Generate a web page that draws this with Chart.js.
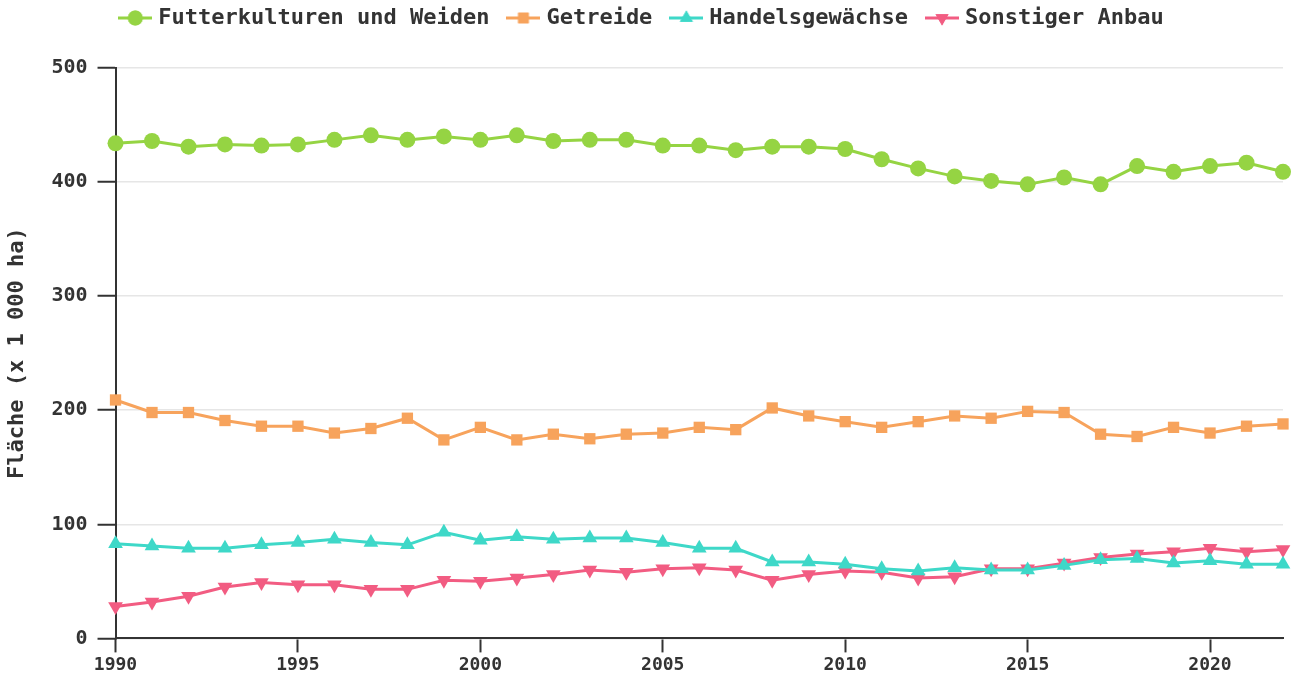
<!DOCTYPE html>
<html>
<head>
<meta charset="utf-8">
<script src="https://cdn.jsdelivr.net/npm/chart.js@4"></script>
<style>
html,body{margin:0;padding:0;background:#fff;}
#wrap{width:1293px;height:680px;position:relative;}
</style>
</head>
<body>
<div id="wrap"><canvas id="c" width="1293" height="680"></canvas></div>
<script>
const years = [1990,1991,1992,1993,1994,1995,1996,1997,1998,1999,2000,2001,2002,2003,2004,2005,2006,2007,2008,2009,2010,2011,2012,2013,2014,2015,2016,2017,2018,2019,2020,2021,2022];
const seriesNames = ["Futterkulturen und Weiden","Getreide","Handelsgewächse","Sonstiger Anbau"];
const futter = [434,436,431,433,432,433,437,441,437,440,437,441,436,437,437,432,432,428,431,431,429,420,412,405,401,398,404,398,414,409,414,417,409];
const getreide = [209,198,198,191,186,186,180,184,193,174,185,174,179,175,179,180,185,183,202,195,190,185,190,195,193,199,198,179,177,185,180,186,188];
const handels = [83,81,79,79,82,84,87,84,82,93,86,89,87,88,88,84,79,79,67,67,65,61,59,62,60,60,64,69,70,66,68,65,65];
const sonstige = [28,32,37,45,49,47,47,43,43,51,50,53,56,60,58,61,62,60,51,56,59,58,53,54,61,61,66,71,74,76,79,76,78];
const yTicks = [0,100,200,300,400,500];
const xTicks = [1990,1995,2000,2005,2010,2015,2020];
const yTitle = "Fläche (x 1 000 ha)";

const colors = ['#95d443','#f7a35c','#3ed8c8','#f25c82'];
const styles = ['circle','rect','triangle','triangle'];
const rotations = [0,0,0,180];
const radii = [8,8,8.5,8.5];
const FONT = "'DejaVu Sans Mono', monospace";

function legendIcon(i){
  const c = document.createElement('canvas');
  c.width = 34; c.height = 20;
  const ctx = c.getContext('2d');
  ctx.strokeStyle = colors[i]; ctx.fillStyle = colors[i]; ctx.lineWidth = 3;
  ctx.beginPath(); ctx.moveTo(0,10); ctx.lineTo(34,10); ctx.stroke();
  Chart.helpers.drawPoint(ctx,{pointStyle:styles[i],rotation:rotations[i],radius:7.5,borderWidth:0},17,10);
  ctx.fill();
  return c;
}

const dataArrays = [futter,getreide,handels,sonstige];
const datasets = dataArrays.map((arr,i)=>({
  label: seriesNames[i],
  data: arr.map((v,k)=>({x:years[k],y:v})),
  borderColor: colors[i],
  backgroundColor: colors[i],
  borderWidth: 3,
  pointStyle: styles[i],
  pointRotation: rotations[i],
  pointRadius: radii[i],
  pointHoverRadius: radii[i],
  pointBorderWidth: 0,
  clip: false,
  tension: 0
}));

const legendGap = {
  id:'legendGap',
  beforeInit(chart){
    const orig = chart.legend.fit;
    chart.legend.fit = function(){ orig.call(this); this.height += 29; };
  }
};

new Chart(document.getElementById('c'),{
  type:'line',
  data:{datasets},
  plugins:[legendGap],
  options:{
    responsive:false,
    animation:false,
    layout:{padding:{left:4,right:10,top:-15,bottom:2}},
    plugins:{
      tooltip:{enabled:false},
      legend:{
        position:'top',
        labels:{
          usePointStyle:true,
          pointStyleWidth:24,
          padding:22,
          color:'#333',
          font:{family:FONT,size:22,weight:'bold'},
          generateLabels:(chart)=>chart.data.datasets.map((d,i)=>({
            text:d.label, pointStyle:legendIcon(i), fillStyle:colors[i], strokeStyle:colors[i],
            lineWidth:0, hidden:false, datasetIndex:i, fontColor:'#333'
          }))
        }
      }
    },
    scales:{
      x:{
        type:'linear', min:years[0], max:years[years.length-1],
        afterBuildTicks:(s)=>{s.ticks = xTicks.map(v=>({value:v}));},
        ticks:{color:'#333',font:{family:FONT,size:18,weight:'bold'},maxRotation:0,padding:2,callback:(v)=>String(v)},
        grid:{drawOnChartArea:false,tickColor:'#333',tickLength:14,tickWidth:2},
        border:{color:'#333',width:2}
      },
      y:{
        min:0,max:500,
        afterBuildTicks:(s)=>{s.ticks = yTicks.map(v=>({value:v}));},
        ticks:{color:'#333',font:{family:FONT,size:20,weight:'bold'},padding:10},
        grid:{color:'#e6e6e6',lineWidth:1.5,tickColor:'#333',tickLength:18,tickWidth:2},
        border:{color:'#333',width:2},
        title:{display:true,text:yTitle,color:'#333',font:{family:FONT,size:22,weight:'bold'},padding:{top:0,bottom:11}}
      }
    }
  }
});
</script>
</body>
</html>
